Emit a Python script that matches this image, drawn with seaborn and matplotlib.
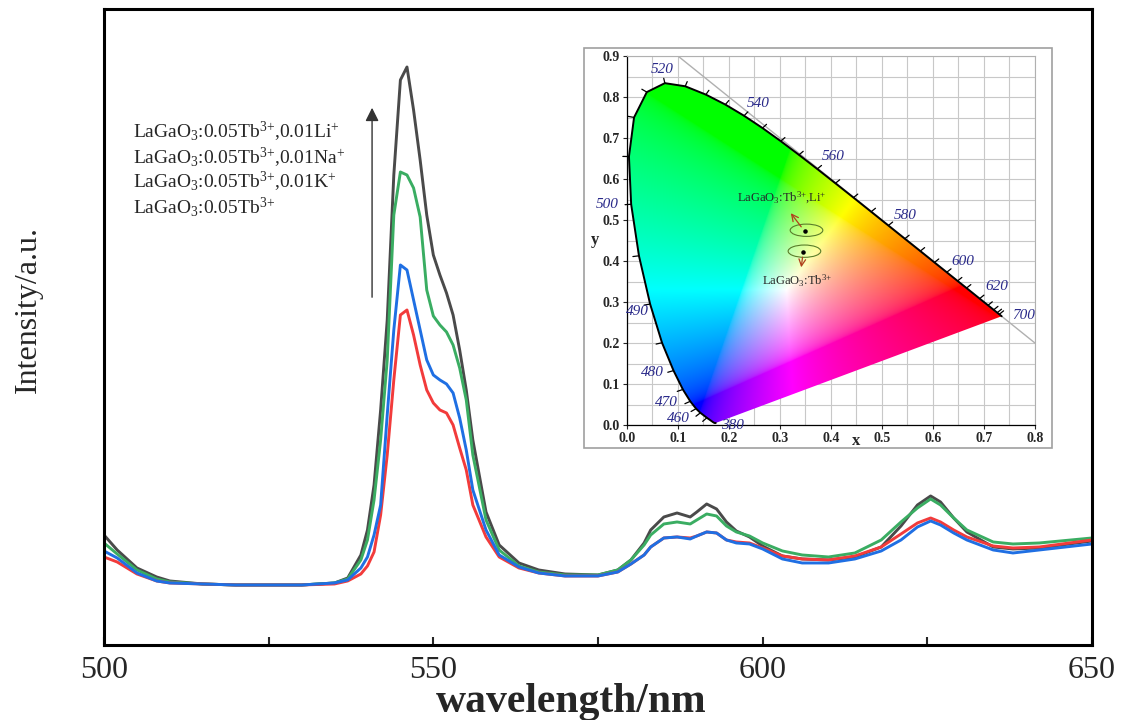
import numpy as np
import pandas as pd
import matplotlib
matplotlib.use("Agg")
import matplotlib.pyplot as plt
import seaborn as sns
from matplotlib.path import Path
from matplotlib.patches import PathPatch, Ellipse, Rectangle
from matplotlib.ticker import MultipleLocator, NullFormatter, FormatStrFormatter

# emission spectra (arbitrary units)
wavelength = [500, 502, 505, 508, 510, 515, 520, 525, 530, 535,
              537, 539, 540, 541, 542, 543, 544, 545, 546, 547,
              548, 549, 550, 551, 552, 553, 554, 555, 556, 558,
              560, 563, 566, 570, 575, 578, 580, 582, 583, 585,
              587, 589, 590, 591.5, 593, 594.5, 596, 598, 600, 603,
              606, 610, 614, 618, 621, 623.5, 625.5, 627, 629, 631,
              635, 638, 642, 650]
int_li = [110, 95, 77, 68, 64, 61, 60, 60, 60, 62,
          67, 90, 115, 160, 235, 325, 470, 565, 578, 535,
          485, 430, 390, 370, 352, 330, 295, 255, 205, 133,
          100, 82, 75, 71, 70, 75, 85, 102, 115, 128,
          132, 128, 133, 141, 136, 123, 114, 108, 99, 89,
          86, 85, 88, 98, 119, 140, 149, 143, 127, 113,
          98, 96, 97, 104]
int_na = [102, 91, 75, 66, 63, 61, 60, 60, 60, 62,
          66, 85, 105, 145, 205, 285, 430, 473, 470, 457,
          428, 355, 329, 320, 313, 300, 277, 245, 190, 125,
          95, 79, 73, 70, 70, 75, 85, 100, 110, 121,
          123, 121, 125, 131, 129, 119, 113, 109, 102, 94,
          90, 88, 92, 105, 123, 137, 146, 140, 127, 115,
          103, 101, 102, 107]
int_k = [94, 87, 72, 64, 62, 61, 60, 60, 60, 62,
         65, 77, 88, 110, 140, 230, 315, 380, 375, 345,
         315, 285, 270, 265, 261, 252, 227, 195, 155, 115,
         90, 78, 72, 69, 69, 73, 81, 90, 98, 107,
         108, 106, 109, 113, 112, 105, 102, 101, 96, 86,
         82, 82, 86, 94, 105, 118, 124, 120, 112, 105,
         95, 92, 95, 101]
int_tb = [88, 83, 71, 64, 62, 61, 60, 60, 60, 61,
          64, 71, 79, 93, 130, 190, 265, 330, 335, 310,
          280, 255, 242, 235, 232, 220, 197, 175, 140, 108,
          88, 77, 72, 69, 69, 73, 81, 90, 98, 107,
          108, 107, 109, 113, 112, 105, 103, 102, 97, 89,
          86, 85, 89, 98, 111, 122, 127, 123, 115, 108,
          99, 97, 98, 105]

sample_labels = [r"LaGaO$_3$:0.05Tb$^{3{+}}$,0.01Li$^{+}$",
                 r"LaGaO$_3$:0.05Tb$^{3{+}}$,0.01Na$^{+}$",
                 r"LaGaO$_3$:0.05Tb$^{3{+}}$,0.01K$^{+}$",
                 r"LaGaO$_3$:0.05Tb$^{3{+}}$"]
line_colors = ["#4a4a4a", "#3aad62", "#1f6fe3", "#f23b3b"]

# CIE 1931 spectral locus
locus_nm = [380, 390, 400, 410, 420, 430, 440, 450, 460, 465, 470, 475, 480, 485,
            490, 495, 500, 505, 510, 515, 520, 525, 530, 535, 540, 545, 550, 555,
            560, 565, 570, 575, 580, 585, 590, 595, 600, 605, 610, 620, 630, 640,
            650, 660, 680, 700]
locus_x = [0.1741, 0.1738, 0.1733, 0.1726, 0.1714, 0.1689, 0.1644, 0.1566, 0.1440,
           0.1355, 0.1241, 0.1096, 0.0913, 0.0687, 0.0454, 0.0235, 0.0082, 0.0039,
           0.0139, 0.0389, 0.0743, 0.1142, 0.1547, 0.1929, 0.2296, 0.2658, 0.3016,
           0.3373, 0.3731, 0.4087, 0.4441, 0.4788, 0.5125, 0.5448, 0.5752, 0.6029,
           0.6270, 0.6482, 0.6658, 0.6915, 0.7079, 0.7190, 0.7260, 0.7300, 0.7334, 0.7347]
locus_y = [0.0050, 0.0049, 0.0048, 0.0048, 0.0051, 0.0069, 0.0109, 0.0177, 0.0297,
           0.0399, 0.0578, 0.0868, 0.1327, 0.2007, 0.2950, 0.4127, 0.5384, 0.6548,
           0.7502, 0.8120, 0.8338, 0.8262, 0.8059, 0.7816, 0.7543, 0.7243, 0.6923,
           0.6589, 0.6245, 0.5896, 0.5547, 0.5202, 0.4866, 0.4544, 0.4242, 0.3965,
           0.3725, 0.3514, 0.3340, 0.3083, 0.2920, 0.2809, 0.2740, 0.2700, 0.2666, 0.2653]

# wavelength labels on the diagram
tag_nm = [520, 540, 560, 580, 600, 620, 700, 500, 490, 480, 470, 460, 380]
tag_x = [0.069, 0.257, 0.404, 0.545, 0.659, 0.725, 0.777, -0.039, 0.020, 0.049, 0.078, 0.100, 0.206]
tag_y = [0.866, 0.785, 0.654, 0.512, 0.398, 0.337, 0.266, 0.537, 0.276, 0.127, 0.054, 0.017, 0.000]

# chromaticity of the two samples
cie_x = [0.349, 0.345]
cie_y = [0.473, 0.422]

sns.set_theme(style="white")
plt.rcParams["font.family"] = ["Liberation Serif", "DejaVu Serif"]
plt.rcParams["mathtext.default"] = "regular"

fig = plt.figure(figsize=(11.23, 7.2), dpi=100)
ax = fig.add_axes([0.0926, 0.1042, 0.8798, 0.8833])

df = pd.DataFrame({
    "wavelength": wavelength * 4,
    "intensity": int_li + int_na + int_tb + int_k,
    "sample": ([sample_labels[0]] * len(wavelength) + [sample_labels[1]] * len(wavelength)
               + [sample_labels[3]] * len(wavelength) + [sample_labels[2]] * len(wavelength)),
})
order = [sample_labels[0], sample_labels[1], sample_labels[3], sample_labels[2]]
pal = dict(zip(sample_labels, line_colors))
sns.lineplot(data=df, x="wavelength", y="intensity", hue="sample", hue_order=order,
             palette=pal, legend=False, lw=2.1, estimator=None, sort=False, ax=ax)

ax.set_xlim(500, 650)
ax.set_ylim(0, 636)
ax.xaxis.set_major_locator(MultipleLocator(50))
ax.xaxis.set_minor_locator(MultipleLocator(25))
ax.xaxis.set_minor_formatter(NullFormatter())
ax.set_yticks([])
ax.tick_params(axis="x", which="both", direction="in", length=6, width=1.5,
               labelsize=23, pad=8, bottom=True, top=False)
for s in ax.spines.values():
    s.set_visible(True)
    s.set_color("black")
    s.set_linewidth(2.2)

ax.set_xlabel("wavelength/nm", fontsize=30, fontweight="bold", va="center")
ax.xaxis.set_label_coords(0.4727, -0.09)
ax.set_ylabel("Intensity/a.u.", fontsize=23, va="center")
ax.yaxis.set_label_coords(-0.0769, 0.527)

for lab, yy in zip(sample_labels, [513, 487, 463, 438]):
    ax.text(504.4, yy, lab, fontsize=14, ha="left", va="center")

ax.annotate("", xy=(540.7, 540), xytext=(540.7, 345),
            arrowprops=dict(arrowstyle="-|>", color="#333333", lw=1.0, mutation_scale=20))

# inset: CIE chromaticity diagram
frame = Rectangle((0.52, 0.3778), 0.4167, 0.5556, transform=fig.transFigure,
                  facecolor="white", edgecolor="#a0a0a0", lw=1.2, zorder=1)
fig.add_artist(frame)

ins = fig.add_axes([0.5583, 0.4097, 0.3633, 0.5125])
ins.set_zorder(3)
ins.set_xlim(0, 0.8)
ins.set_ylim(0, 0.9)
ins.xaxis.set_major_locator(MultipleLocator(0.1))
ins.yaxis.set_major_locator(MultipleLocator(0.1))
ins.xaxis.set_minor_locator(MultipleLocator(0.05))
ins.yaxis.set_minor_locator(MultipleLocator(0.05))
ins.grid(which="both", color="#c8c8c8", lw=0.8)
ins.set_axisbelow(True)

gx, gy = np.meshgrid(np.linspace(0, 0.8, 480), np.linspace(0.002, 0.9, 540))
xyz = np.stack([gx / gy, np.ones_like(gx), (1 - gx - gy) / gy], axis=-1)
m = np.array([[3.2406, -1.5372, -0.4986],
              [-0.9689, 1.8758, 0.0415],
              [0.0557, -0.2040, 1.0570]])
rgb = np.clip(xyz @ m.T, 0, None)
rgb = rgb / np.clip(rgb.max(axis=-1, keepdims=True), 1e-9, None)
rgb = np.clip(rgb, 0, 1) ** (1 / 2.2)

verts = np.column_stack([locus_x + [locus_x[0]], locus_y + [locus_y[0]]])
horse = PathPatch(Path(verts, closed=True), facecolor="none", edgecolor="none")
ins.add_patch(horse)
img = ins.imshow(rgb, extent=[0, 0.8, 0.002, 0.9], origin="lower", aspect="auto",
                 interpolation="bilinear", zorder=2)
img.set_clip_path(horse)
ins.plot(locus_x, locus_y, color="black", lw=1.4, zorder=4)

# small ticks along the locus
lx, ly = np.array(locus_x), np.array(locus_y)
tx, ty = np.gradient(lx), np.gradient(ly)
nrm = np.hypot(tx, ty)
nx, ny = ty / nrm, -tx / nrm
flip = np.sign(nx * (lx - 0.33) + ny * (ly - 0.33))
nx, ny = nx * flip, ny * flip
for i in range(len(lx)):
    if 450 <= locus_nm[i] <= 660:
        ins.plot([lx[i], lx[i] + 0.012 * nx[i]], [ly[i], ly[i] + 0.012 * ny[i]],
                 color="black", lw=0.9, zorder=4, clip_on=False)

ins.plot([0.1, 0.8], [0.9, 0.2], color="#b0b0b0", lw=1.0, zorder=3)

for nm, x, y in zip(tag_nm, tag_x, tag_y):
    ins.text(x, y, str(nm), fontsize=11, style="italic", color="#2a2a8a", ha="center",
             va="center", zorder=5, clip_on=False)

for x, y in zip(cie_x, cie_y):
    ins.add_patch(Ellipse((x + 0.003, y + 0.002), 0.064, 0.03, fill=False,
                          ec="#5a7d2a", lw=0.8, zorder=5))
ins.scatter(cie_x, cie_y, s=5, color="black", zorder=6)
ins.annotate("", xy=(0.318, 0.522), xytext=(cie_x[0] - 0.004, cie_y[0] + 0.005),
             arrowprops=dict(arrowstyle="->", color="#b0401c", lw=0.9), zorder=6)
ins.annotate("", xy=(0.341, 0.378), xytext=(cie_x[1], cie_y[1] - 0.006),
             arrowprops=dict(arrowstyle="->", color="#b0401c", lw=0.9), zorder=6)
ins.text(0.304, 0.554, r"LaGaO$_3$:Tb$^{3{+}}$,Li$^{+}$", fontsize=9, ha="center",
         va="center", zorder=6)
ins.text(0.333, 0.351, r"LaGaO$_3$:Tb$^{3{+}}$", fontsize=9, ha="center",
         va="center", zorder=6)

ins.tick_params(which="major", direction="out", length=3, width=0.8, labelsize=10, pad=2,
                left=True, bottom=True)
ins.tick_params(which="minor", length=0)
ins.xaxis.set_major_formatter(FormatStrFormatter("%.1f"))
ins.yaxis.set_major_formatter(FormatStrFormatter("%.1f"))
for t in ins.get_xticklabels() + ins.get_yticklabels():
    t.set_fontweight("bold")
for side in ["top", "right"]:
    ins.spines[side].set_color("#b0b0b0")
    ins.spines[side].set_linewidth(0.8)
for side in ["left", "bottom"]:
    ins.spines[side].set_color("black")
    ins.spines[side].set_linewidth(0.9)
ins.text(0.449, -0.04, "x", fontsize=12, fontweight="bold", ha="center", va="center",
         clip_on=False)
ins.text(-0.063, 0.451, "y", fontsize=12, fontweight="bold", ha="center", va="center",
         clip_on=False)

fig.savefig("out.png", dpi=100)
